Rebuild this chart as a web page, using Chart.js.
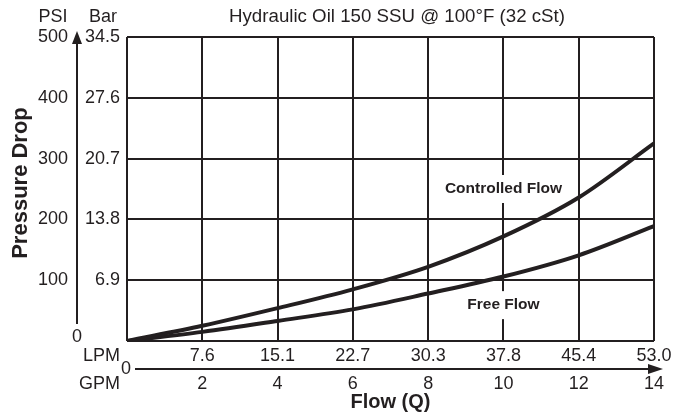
<!DOCTYPE html>
<html>
<head>
<meta charset="utf-8">
<script src="https://cdn.jsdelivr.net/npm/chart.js@4/dist/chart.umd.min.js"></script>
<style>
  html, body { margin: 0; padding: 0; background: #ffffff; }
  #wrap { width: 685px; height: 414px; position: relative; }
</style>
</head>
<body>
<div id="wrap"><canvas id="chart"></canvas></div>
<script>
// Flow in GPM where the curves are sampled
const flowGpm = [0, 2, 4, 6, 8, 10, 12, 14];
// Pressure drop (PSI) for each flow path
const controlledFlowPsi = [0, 25, 54, 85, 122, 172, 236, 325];
const freeFlowPsi = [0, 15, 33, 52, 78, 106, 141, 189];

// Axis tick labels
const gpmTicks = [0, 2, 4, 6, 8, 10, 12, 14];
const lpmLabels = ['', '7.6', '15.1', '22.7', '30.3', '37.8', '45.4', '53.0'];
const psiTicks = [0, 100, 200, 300, 400, 500];
const barLabels = ['', '6.9', '13.8', '20.7', '27.6', '34.5'];

const seriesNames = ['Controlled Flow', 'Free Flow'];
// where each curve name sits: [GPM, PSI]
const seriesLabelAt = [[10, 250], [10, 59]];

const INK = '#231f20';
const FONT = "'Liberation Sans', Arial, Helvetica, sans-serif";

const toPoints = (ys) => flowGpm.map((x, i) => ({ x, y: ys[i] }));

const decorations = {
  id: 'decorations',
  beforeDatasetsDraw(chart) {
    const { ctx } = chart;
    const xs = chart.scales.x, ys = chart.scales.y;
    ctx.save();
    ctx.font = `bold 15.5px ${FONT}`;
    ctx.textAlign = 'center';
    ctx.textBaseline = 'middle';
    seriesNames.forEach((name, i) => {
      const px = xs.getPixelForValue(seriesLabelAt[i][0]);
      const py = ys.getPixelForValue(seriesLabelAt[i][1]);
      const w = ctx.measureText(name).width;
      ctx.fillStyle = '#ffffff';
      ctx.fillRect(px - w / 2 - 4, py - 14, w + 8, 28);
      ctx.fillStyle = INK;
      ctx.fillText(name, px, py);
    });
    ctx.restore();
  },
  afterDraw(chart) {
    const { ctx, chartArea } = chart;
    const xs = chart.scales.x, ys = chart.scales.y;
    ctx.save();
    ctx.fillStyle = INK;
    ctx.strokeStyle = INK;

    // header
    ctx.font = `18.7px ${FONT}`;
    ctx.textAlign = 'center';
    ctx.textBaseline = 'middle';
    ctx.fillText('Hydraulic Oil 150 SSU @ 100\u00B0F (32 cSt)', 397, 17);
    ctx.font = `18px ${FONT}`;
    ctx.fillText('PSI', 53, 17);
    ctx.fillText('Bar', 103, 17);

    // vertical arrow of the pressure axis
    const ax = 77;
    ctx.lineWidth = 2;
    ctx.beginPath();
    ctx.moveTo(ax, ys.getPixelForValue(0) - 17);
    ctx.lineTo(ax, chartArea.top + 4);
    ctx.stroke();
    ctx.beginPath();
    ctx.moveTo(ax, chartArea.top - 6);
    ctx.lineTo(ax - 5, chartArea.top + 7);
    ctx.lineTo(ax + 5, chartArea.top + 7);
    ctx.closePath();
    ctx.fill();
    ctx.fillText('0', ax, ys.getPixelForValue(0) - 4);

    // horizontal arrow of the flow axis
    const ay = 369;
    ctx.beginPath();
    ctx.moveTo(xs.getPixelForValue(0) + 8, ay);
    ctx.lineTo(chartArea.right - 2, ay);
    ctx.stroke();
    ctx.beginPath();
    ctx.moveTo(chartArea.right + 9, ay);
    ctx.lineTo(chartArea.right - 6, ay - 5);
    ctx.lineTo(chartArea.right - 6, ay + 5);
    ctx.closePath();
    ctx.fill();
    ctx.fillText('0', xs.getPixelForValue(0) - 1, ay);

    // unit captions of the flow rows
    ctx.textAlign = 'right';
    ctx.fillText('LPM', 120, 356);
    ctx.fillText('GPM', 120, 384);

    // pressure axis title
    ctx.font = `bold 22px ${FONT}`;
    ctx.translate(21, 183);
    ctx.rotate(-Math.PI / 2);
    ctx.textAlign = 'center';
    ctx.fillText('Pressure Drop', 0, 0);
    ctx.restore();
  }
};

const tickFont = { family: FONT, size: 18 };

new Chart(document.getElementById('chart'), {
  type: 'line',
  data: {
    datasets: [
      {
        label: seriesNames[0],
        data: toPoints(controlledFlowPsi),
        borderColor: INK,
        borderWidth: 4,
        pointRadius: 0,
        cubicInterpolationMode: 'monotone',
        fill: false
      },
      {
        label: seriesNames[1],
        data: toPoints(freeFlowPsi),
        borderColor: INK,
        borderWidth: 4,
        pointRadius: 0,
        cubicInterpolationMode: 'monotone',
        fill: false
      }
    ]
  },
  options: {
    responsive: true,
    maintainAspectRatio: false,
    devicePixelRatio: 1,
    animation: false,
    layout: { padding: { top: 37, right: 31, bottom: 0, left: 0 } },
    plugins: {
      legend: { display: false },
      tooltip: { enabled: false },
      title: { display: false }
    },
    scales: {
      x: {
        type: 'linear',
        position: 'bottom',
        weight: 1,
        min: 0,
        max: 14,
        afterBuildTicks: (s) => { s.ticks = gpmTicks.map(v => ({ value: v })); },
        afterFit: (s) => { s.height = 49; },
        grid: { display: true, drawTicks: false, color: INK, lineWidth: 2 },
        border: { display: false },
        ticks: {
          autoSkip: false,
          maxRotation: 0,
          padding: 8,
          color: INK,
          font: tickFont,
          callback: (v) => (v === 0 ? '' : String(v))
        },
        title: {
          display: true,
          text: 'Flow (Q)',
          color: INK,
          font: { family: FONT, size: 20, weight: 'bold' },
          padding: { top: 0, bottom: 0 }
        }
      },
      x2: {
        type: 'linear',
        position: 'bottom',
        weight: 0,
        min: 0,
        max: 14,
        afterBuildTicks: (s) => { s.ticks = gpmTicks.map(v => ({ value: v })); },
        afterFit: (s) => { s.height = 24; },
        grid: { display: false, drawTicks: false },
        border: { display: false },
        ticks: {
          autoSkip: false,
          maxRotation: 0,
          padding: 4,
          color: INK,
          font: tickFont,
          callback: (v, i) => lpmLabels[i]
        }
      },
      y: {
        type: 'linear',
        position: 'left',
        weight: 1,
        min: 0,
        max: 500,
        afterBuildTicks: (s) => { s.ticks = psiTicks.map(v => ({ value: v })); },
        afterFit: (s) => { s.width = 70; },
        grid: { display: true, drawTicks: false, color: INK, lineWidth: 2 },
        border: { display: false },
        ticks: {
          padding: 2,
          color: INK,
          font: tickFont,
          callback: (v) => (v === 0 ? '' : String(v))
        }
      },
      y2: {
        type: 'linear',
        position: 'left',
        weight: 0,
        min: 0,
        max: 500,
        afterBuildTicks: (s) => { s.ticks = psiTicks.map(v => ({ value: v })); },
        afterFit: (s) => { s.width = 57; },
        grid: { display: false, drawTicks: false },
        border: { display: false },
        ticks: {
          padding: 7,
          color: INK,
          font: tickFont,
          callback: (v, i) => barLabels[i]
        }
      }
    }
  },
  plugins: [decorations]
});
</script>
</body>
</html>
